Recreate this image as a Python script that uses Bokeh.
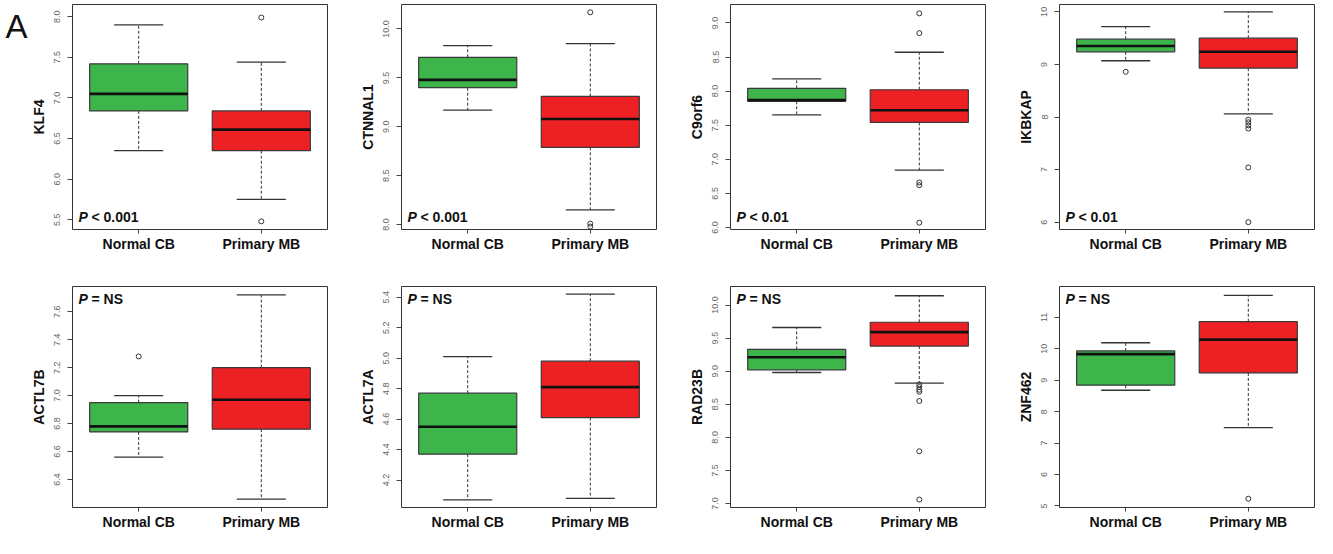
from bokeh.plotting import figure
from bokeh.layouts import column, row
from bokeh.models import Range1d, FixedTicker, PrintfTickFormatter, Label, ColumnDataSource, LinearAxis
from bokeh.embed import file_html
from bokeh.resources import INLINE

genes = ["KLF4", "CTNNAL1", "C9orf6", "IKBKAP", "ACTL7B", "ACTL7A", "RAD23B", "ZNF462"]
groups = ["Normal CB", "Primary MB"]
p_texts = ["< 0.001", "< 0.001", "< 0.01", "< 0.01", "= NS", "= NS", "= NS", "= NS"]
panel_letter = "A"

# Normal CB box statistics
cb_low = [6.35, 9.17, 7.65, 9.07, 6.56, 4.07, 8.98, 8.68]
cb_q1 = [6.84, 9.40, 7.85, 9.24, 6.74, 4.37, 9.02, 8.84]
cb_med = [7.05, 9.48, 7.87, 9.35, 6.78, 4.55, 9.21, 9.83]
cb_q3 = [7.42, 9.71, 8.04, 9.48, 6.95, 4.77, 9.33, 9.93]
cb_high = [7.90, 9.83, 8.18, 9.72, 7.00, 5.01, 9.66, 10.19]
cb_out = [[], [], [], [8.86], [7.28], [], [], []]

# Primary MB box statistics
mb_low = [5.75, 8.15, 6.84, 8.06, 6.26, 4.08, 8.82, 7.49]
mb_q1 = [6.35, 8.79, 7.54, 8.93, 6.76, 4.61, 9.38, 9.23]
mb_med = [6.61, 9.08, 7.72, 9.24, 6.97, 4.81, 9.59, 10.29]
mb_q3 = [6.84, 9.31, 8.02, 9.50, 7.20, 4.98, 9.74, 10.86]
mb_high = [7.44, 9.85, 8.57, 10.00, 7.72, 5.42, 10.14, 11.70]
mb_out = [[7.99, 5.48], [10.17, 8.01, 7.98], [9.14, 8.85, 6.66, 6.62, 6.07],
          [7.95, 7.90, 7.84, 7.78, 7.04, 6.00], [], [],
          [8.80, 8.76, 8.72, 8.69, 8.55, 7.79, 7.06], [5.23]]

y_lo = [5.38, 7.95, 5.97, 5.86, 6.20, 4.02, 6.94, 4.95]
y_hi = [8.15, 10.25, 9.27, 10.14, 7.78, 5.47, 10.28, 11.98]
y_ticks = [
    [5.5, 6.0, 6.5, 7.0, 7.5, 8.0],
    [8.0, 8.5, 9.0, 9.5, 10.0],
    [6.0, 6.5, 7.0, 7.5, 8.0, 8.5, 9.0],
    [6, 7, 8, 9, 10],
    [6.4, 6.6, 6.8, 7.0, 7.2, 7.4, 7.6],
    [4.2, 4.4, 4.6, 4.8, 5.0, 5.2, 5.4],
    [7.0, 7.5, 8.0, 8.5, 9.0, 9.5, 10.0],
    [5, 6, 7, 8, 9, 10, 11],
]
tick_fmt = ["%.1f", "%.1f", "%.1f", "%d", "%.1f", "%.1f", "%.1f", "%d"]

GREEN = "#3DB54A"
RED = "#ED2024"
FONT = "Liberation Sans"


def make_fig(i):
    top_row = i < 4
    h = 254 if top_row else 284
    p = figure(width=329, height=h, output_backend="svg", toolbar_location=None,
               x_range=Range1d(0.46, 2.54), y_range=Range1d(y_lo[i], y_hi[i]),
               min_border_left=72, min_border_right=2,
               min_border_top=4 if top_row else 32,
               min_border_bottom=25 if top_row else 31)
    p.grid.visible = False
    p.outline_line_color = "#333333"
    p.outline_line_width = 1
    p.background_fill_color = "white"

    xs = [1, 2]
    src = ColumnDataSource(dict(
        x=xs,
        xl=[x - 0.4 for x in xs], xr=[x + 0.4 for x in xs],
        cl=[x - 0.2 for x in xs], cr=[x + 0.2 for x in xs],
        low=[cb_low[i], mb_low[i]], q1=[cb_q1[i], mb_q1[i]],
        med=[cb_med[i], mb_med[i]], q3=[cb_q3[i], mb_q3[i]],
        high=[cb_high[i], mb_high[i]], color=[GREEN, RED]))

    p.segment(x0="x", y0="q3", x1="x", y1="high", source=src,
              line_dash="3 2", line_color="#333333", line_width=1)
    p.segment(x0="x", y0="q1", x1="x", y1="low", source=src,
              line_dash="3 2", line_color="#333333", line_width=1)
    p.segment(x0="cl", y0="high", x1="cr", y1="high", source=src,
              line_color="#333333", line_width=1.3)
    p.segment(x0="cl", y0="low", x1="cr", y1="low", source=src,
              line_color="#333333", line_width=1.3)
    p.vbar(x="x", width=0.8, bottom="q1", top="q3", source=src,
           fill_color="color", line_color="#3a3a3a", line_width=1.2)
    p.segment(x0="xl", y0="med", x1="xr", y1="med", source=src,
              line_color="#111111", line_width=2.6)

    ox = [1] * len(cb_out[i]) + [2] * len(mb_out[i])
    oy = cb_out[i] + mb_out[i]
    if oy:
        p.scatter(ox, oy, marker="circle", size=5, fill_color=None,
                  line_color="#333333", line_width=1)

    # axes
    yax = p.yaxis[0]
    yax.ticker = FixedTicker(ticks=y_ticks[i])
    yax.formatter = PrintfTickFormatter(format=tick_fmt[i])
    yax.major_label_orientation = "vertical"
    yax.major_label_text_font = FONT
    yax.major_label_text_font_size = "9px"
    yax.major_label_text_color = "#666666"
    yax.major_tick_out = 5
    yax.major_tick_in = 0
    yax.minor_tick_out = 0
    yax.minor_tick_in = 0
    yax.major_label_standoff = 7
    yax.axis_line_color = None
    yax.major_tick_line_color = "#444444"
    yax.axis_label = genes[i]
    yax.axis_label_text_font = FONT
    yax.axis_label_text_font_style = "bold"
    yax.axis_label_text_font_size = "14px"
    yax.axis_label_text_color = "#111111"
    yax.axis_label_standoff = 5

    xax = p.xaxis[0]
    xax.ticker = FixedTicker(ticks=[1, 2])
    xax.major_label_overrides = {1: groups[0], 2: groups[1]}
    xax.major_label_text_font = FONT
    xax.major_label_text_font_style = "bold"
    xax.major_label_text_font_size = "14px"
    xax.major_label_text_color = "#111111"
    xax.major_tick_out = 4
    xax.major_tick_in = 0
    xax.minor_tick_out = 0
    xax.major_label_standoff = 2
    xax.axis_line_color = None
    xax.major_tick_line_color = "#444444"

    # P value annotation
    if top_row:
        ly, yoff, base = y_lo[i], 5, "bottom"
    else:
        ly, yoff, base = y_hi[i], -4, "top"
    p.add_layout(Label(x=0.46, y=ly, x_offset=6, y_offset=yoff, text="P",
                       text_font=FONT, text_font_style="bold italic",
                       text_font_size="14px", text_baseline=base, text_color="#111111"))
    p.add_layout(Label(x=0.46, y=ly, x_offset=19, y_offset=yoff, text=p_texts[i],
                       text_font=FONT, text_font_style="bold",
                       text_font_size="14px", text_baseline=base, text_color="#111111"))
    if i == 0:
        lax = LinearAxis(ticker=FixedTicker(ticks=[]), axis_line_color=None,
                         major_tick_line_color=None, minor_tick_line_color=None,
                         axis_label="\n" + panel_letter, axis_label_orientation="horizontal",
                         axis_label_align="end", axis_label_standoff=0,
                         axis_label_text_font=FONT, axis_label_text_font_size="33px",
                         axis_label_text_font_style="normal",
                         axis_label_text_color="#111111")
        p.add_layout(lax, "left")
    return p


figs = [make_fig(i) for i in range(8)]
layout = column(row(*figs[:4], spacing=0), row(*figs[4:], spacing=0), spacing=0)

open("out.html", "w").write(file_html(layout, INLINE))
